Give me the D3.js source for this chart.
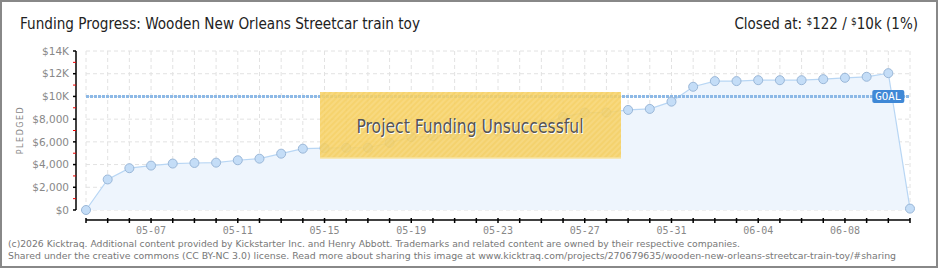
<!DOCTYPE html>
<html><head><meta charset="utf-8">
<script src="https://cdn.jsdelivr.net/npm/d3@7"></script>
<style>body{margin:0;background:#fff}svg{display:block}</style>
</head><body><svg id="c" width="940" height="270"></svg>
<script>
const dates = ["05-04","05-05","05-06","05-07","05-08","05-09","05-10","05-11","05-12","05-13","05-14","05-15","05-16","05-17","05-18","05-19","05-20","05-21","05-22","05-23","05-24","05-25","05-26","05-27","05-28","05-29","05-30","05-31","06-01","06-02","06-03","06-04","06-05","06-06","06-07","06-08","06-09","06-10","06-11"];
const pledged = [0,2690,3680,3910,4090,4140,4170,4380,4520,4960,5400,5450,5480,5480,5920,6420,6500,6620,6710,6900,7200,7500,8200,8580,8580,8810,8900,9540,10850,11350,11350,11430,11430,11430,11520,11640,11730,12050,122];
const yTicks = [0,2000,4000,6000,8000,10000,12000,14000];
const yTickLabels = ["$0","$2,000","$4,000","$6,000","$8,000","$10K","$12K","$14K"];
const xLabelDates = ["05-07","05-11","05-15","05-19","05-23","05-27","05-31","06-04","06-08"];
const goal = 10000;
const title = "Funding Progress: Wooden New Orleans Streetcar train toy";
const footer1 = "(c)2026 Kicktraq. Additional content provided by Kickstarter Inc. and Henry Abbott. Trademarks and related content are owned by their respective companies.";
const footer2 = "Shared under the creative commons (CC BY-NC 3.0) license. Read more about sharing this image at www.kicktraq.com/projects/270679635/wooden-new-orleans-streetcar-train-toy/#sharing";

const parse = s => new Date(Date.UTC(2013, +s.slice(0,2)-1, +s.slice(3,5)));
const data = dates.map((d,i)=>({date:parse(d), v:pledged[i]}));

const svg = d3.select("#c");
const x = d3.scaleUtc().domain([parse(dates[0]), parse(dates[dates.length-1])]).range([86,910]);
const y = d3.scaleLinear().domain([0,14000]).range([210,51]);

// frame
svg.append("rect").attr("x",1).attr("y",1).attr("width",936).attr("height",266)
  .attr("fill","#fff").attr("stroke","#888").attr("stroke-width",2);

const defs = svg.append("defs");
const pat = defs.append("pattern").attr("id","stripes").attr("width",4).attr("height",4)
  .attr("patternUnits","userSpaceOnUse").attr("patternTransform","rotate(45)");
pat.append("rect").attr("width",4).attr("height",4).attr("fill","#f5cd5a");
pat.append("rect").attr("width",2).attr("height",4).attr("fill","#f7d46e");

// grid
const days = d3.utcDay.range(x.domain()[0], d3.utcDay.offset(x.domain()[1],1));
svg.append("g").selectAll("line").data(days).join("line")
  .attr("x1",d=>x(d)).attr("x2",d=>x(d)).attr("y1",y(14000)).attr("y2",y(0))
  .attr("stroke","#e2e2e2").attr("stroke-dasharray","4,3");
svg.append("g").selectAll("line").data(yTicks).join("line")
  .attr("x1",86).attr("x2",910).attr("y1",d=>y(d)).attr("y2",d=>y(d))
  .attr("stroke","#e2e2e2").attr("stroke-dasharray","4,3");

// area + line
svg.append("path").datum(data)
  .attr("d", d3.area().x(d=>x(d.date)).y0(y(0)).y1(d=>y(d.v)))
  .attr("fill","#eef5fd");
svg.append("path").datum(data)
  .attr("d", d3.line().x(d=>x(d.date)).y(d=>y(d.v)))
  .attr("fill","none").attr("stroke","#b8d6f4").attr("stroke-width",1.2);

// goal line
svg.append("line").attr("x1",86).attr("x2",910).attr("y1",y(goal)).attr("y2",y(goal))
  .attr("stroke","#8db9e6").attr("stroke-width",3).attr("stroke-dasharray","3,1");

// points
svg.append("g").selectAll("circle").data(data).join("circle")
  .attr("cx",d=>x(d.date)).attr("cy",d=>y(d.v)).attr("r",4.5)
  .attr("fill","#c4ddf7").attr("stroke","#9ab7d8").attr("stroke-width",1);

// goal badge
const gb = svg.append("g").attr("transform",`translate(${x(parse("06-10"))-16},${y(goal)-6.5})`);
gb.append("rect").attr("width",32).attr("height",13).attr("rx",2).attr("fill","#3f88d6");
gb.append("text").attr("x",16).attr("y",10.5).attr("text-anchor","middle")
  .attr("font-family","DejaVu Sans Mono, monospace").attr("font-size",10.5).attr("fill","#fff")
  .attr("textLength",26).attr("lengthAdjust","spacingAndGlyphs").text("GOAL");

// y axis
const ya = svg.append("g");
ya.append("line").attr("x1",76).attr("x2",76).attr("y1",y(14000)).attr("y2",y(0)).attr("stroke","#000").attr("stroke-width",1.5);
ya.selectAll("line.maj").data(yTicks).join("line").attr("class","maj")
  .attr("x1",73).attr("x2",76).attr("y1",d=>y(d)).attr("y2",d=>y(d)).attr("stroke","#000").attr("stroke-width",1.5);
ya.selectAll("line.min").data(d3.range(1000,14000,2000)).join("line").attr("class","min")
  .attr("x1",73).attr("x2",76).attr("y1",d=>y(d)).attr("y2",d=>y(d)).attr("stroke","#e00").attr("stroke-width",1);
ya.selectAll("text").data(yTicks).join("text")
  .attr("x",69).attr("y",d=>y(d)).attr("dy","0.35em").attr("text-anchor","end")
  .attr("font-family","DejaVu Sans, sans-serif").attr("font-size",10.5).attr("fill","#888")
  .text((d,i)=>yTickLabels[i]);
svg.append("text").attr("transform","translate(23,130) rotate(-90)").attr("text-anchor","middle")
  .attr("font-family","DejaVu Sans, sans-serif").attr("font-size",8).attr("letter-spacing",1.5).attr("fill","#888")
  .text("PLEDGED");

// x axis
const xa = svg.append("g");
xa.append("line").attr("x1",86).attr("x2",910).attr("y1",220).attr("y2",220).attr("stroke","#000").attr("stroke-width",1.5);
xa.selectAll("line.t").data(days).join("line").attr("class","t")
  .attr("x1",d=>x(d)).attr("x2",d=>x(d)).attr("y1",218).attr("y2",223).attr("stroke","#000").attr("stroke-width",1.5);
xa.selectAll("text").data(xLabelDates).join("text")
  .attr("x",d=>x(parse(d))).attr("y",234).attr("text-anchor","middle")
  .attr("font-family","DejaVu Sans Mono, monospace").attr("font-size",10).attr("fill","#888")
  .text(d=>d);

// unsuccessful box
svg.append("rect").attr("x",320).attr("y",92).attr("width",301).attr("height",66)
  .attr("fill","url(#stripes)").attr("opacity",0.88);
svg.append("line").attr("x1",320).attr("x2",621).attr("y1",158).attr("y2",158).attr("stroke","#f7e3a0").attr("stroke-width",1.5);
svg.append("text").attr("x",471).attr("y",134).attr("text-anchor","middle")
  .attr("font-family","Liberation Sans Narrow, DejaVu Sans Condensed, Roboto, sans-serif").attr("font-size",19)
  .attr("fill","#fff").attr("textLength",227).attr("lengthAdjust","spacingAndGlyphs").text("Project Funding Unsuccessful");
svg.append("text").attr("x",470).attr("y",133).attr("text-anchor","middle")
  .attr("font-family","Liberation Sans Narrow, DejaVu Sans Condensed, Roboto, sans-serif").attr("font-size",19)
  .attr("fill","#555").attr("textLength",227).attr("lengthAdjust","spacingAndGlyphs").text("Project Funding Unsuccessful");

// title
svg.append("text").attr("x",20).attr("y",29)
  .attr("font-family","Liberation Sans Narrow, DejaVu Sans Condensed, Roboto, sans-serif").attr("font-size",15)
  .attr("fill","#222").attr("textLength",400).attr("lengthAdjust","spacingAndGlyphs").text(title);
const ct = svg.append("text").attr("x",918).attr("y",29).attr("text-anchor","end")
  .attr("font-family","Liberation Sans Narrow, DejaVu Sans Condensed, Roboto, sans-serif").attr("font-size",15).attr("fill","#222");
ct.append("tspan").text("Closed at:  ");
ct.append("tspan").attr("font-size",10).attr("dy",-4).text("$");
ct.append("tspan").attr("dy",4).text("122 / ");
ct.append("tspan").attr("font-size",10).attr("dy",-4).text("$");
ct.append("tspan").attr("dy",4).text("10k (1%)");

// footer
svg.append("text").attr("x",8).attr("y",247).attr("font-family","DejaVu Sans, sans-serif").attr("font-size",9.5)
  .attr("fill","#777").attr("textLength",732).attr("lengthAdjust","spacingAndGlyphs").text(footer1);
svg.append("text").attr("x",8).attr("y",259).attr("font-family","DejaVu Sans, sans-serif").attr("font-size",9.5)
  .attr("fill","#777").attr("textLength",888).attr("lengthAdjust","spacingAndGlyphs").text(footer2);
</script></body></html>
